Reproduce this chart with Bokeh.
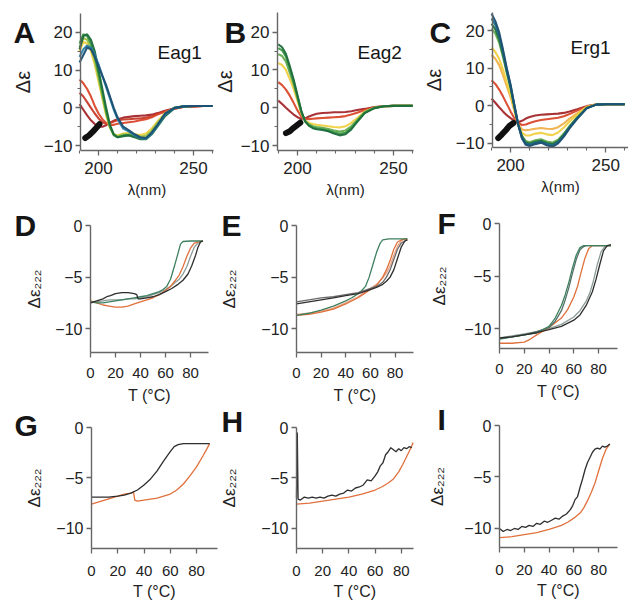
from bokeh.plotting import figure
from bokeh.models import Range1d, FixedTicker, Label, LinearAxis
from bokeh.embed import file_html
from bokeh.resources import INLINE

FONT = "Liberation Sans"
AXC = "#666666"
TXT = "#222222"

# ---------------- data: CD spectra ----------------
WL = [190, 192, 194, 196, 198, 200, 202, 204, 206, 208, 210, 213, 216, 219, 222, 225, 228, 231, 235, 240, 245, 250, 255, 260]
SPEC_XTICKS = [200, 250]
SPEC_XMINOR = [190, 210, 220, 230, 240, 260]
SPEC_YTICKS = [-10, 0, 10, 20]
SPEC_YMINOR = [-5, 5, 15]

# Eag1
A_1 = [12, 14, 16, 15.5, 13.5, 11, 8.5, 6, 3, 0, -2.5, -5, -6, -7, -7.8, -8, -6.5, -4.5, -1.5, 0, 0.4, 0.5, 0.5, 0.5]
A_2 = [13.5, 15.5, 16.5, 16, 14, 11.5, 8.5, 5.5, 2.5, -0.5, -3, -5.5, -6.3, -7.3, -8, -8.2, -6.8, -4.8, -1.8, 0, 0.4, 0.5, 0.5, 0.5]
A_3 = [15.5, 19, 19.5, 18, 15, 10, 5, 0, -4.5, -7, -7.8, -7.5, -7.3, -7.8, -8.3, -8.3, -7, -5, -2.2, -0.1, 0.4, 0.5, 0.5, 0.5]
A_4 = [17, 19.5, 19, 17, 13.5, 9, 4, -1, -5, -7.3, -7.8, -7.3, -7.2, -7.6, -8, -8, -6.8, -4.7, -2, 0, 0.4, 0.5, 0.5, 0.5]
A_5 = [16, 18.5, 18, 16, 12.5, 8, 3, -1.5, -5, -7, -7.5, -7, -7, -7.3, -7.6, -7.4, -6, -4, -1.6, 0, 0.4, 0.5, 0.5, 0.5]
A_6 = [15, 17.5, 17, 15, 11.5, 7, 2.5, -2, -5.3, -7, -7.3, -6.8, -6.7, -7, -7.2, -6.8, -5.5, -3.6, -1.4, 0, 0.4, 0.5, 0.5, 0.5]
A_7 = [7.5, 6.5, 5, 3, 0.5, -1.5, -3, -4, -4.5, -4.5, -4.2, -4, -3.8, -3.6, -3.3, -3, -2.5, -1.8, -1, -0.2, 0.3, 0.4, 0.5, 0.5]
A_8 = [4, 3, 1.5, 0, -1.5, -2.8, -3.8, -4.2, -4, -3.6, -3.3, -3.1, -3, -2.9, -2.8, -2.6, -2.2, -1.6, -0.9, -0.2, 0.3, 0.4, 0.5, 0.5]
A_9 = [1, -0.5, -2, -3.3, -4.3, -5, -5, -4.6, -4, -3.4, -3, -2.6, -2.4, -2.2, -2.1, -2, -1.8, -1.4, -0.8, -0.1, 0.3, 0.4, 0.5, 0.5]
A_NOISE_WL = [193, 195, 197, 199, 200.5]
A_NOISE = [-8.0, -7.3, -6.3, -5.2, -4.3]

# Eag2
B_1 = [16.8, 16, 14.2, 11, 7.5, 3.3, -0.8, -3.6, -4.8, -5.4, -5.7, -5.9, -6.2, -6.8, -7.3, -7.0, -5.7, -3.8, -1.4, -0.1, 0.4, 0.5, 0.5, 0.5]
B_2 = [15.8, 15.2, 13.5, 10.3, 7, 3, -1, -3.6, -4.6, -5.2, -5.5, -5.7, -6, -6.5, -6.9, -6.6, -5.4, -3.6, -1.3, -0.1, 0.4, 0.5, 0.5, 0.5]
B_3 = [14.2, 13.7, 12.2, 9.3, 6.2, 2.5, -1.2, -3.5, -4.4, -4.9, -5.1, -5.3, -5.6, -6, -6.3, -6, -4.9, -3.3, -1.2, 0, 0.4, 0.5, 0.5, 0.5]
B_4 = [11.8, 11.3, 10, 7.6, 5, 1.8, -1.5, -3.4, -4, -4.3, -4.5, -4.7, -4.9, -5.1, -5.2, -4.9, -4, -2.8, -1, 0, 0.4, 0.5, 0.5, 0.5]
B_5 = [6.8, 6, 4.8, 3.2, 1.3, -0.7, -2.3, -3, -3, -2.9, -2.8, -2.7, -2.6, -2.5, -2.4, -2.2, -1.8, -1.3, -0.6, 0.1, 0.4, 0.5, 0.5, 0.5]
B_6 = [1.9, 1, 0, -0.9, -1.8, -2.5, -2.9, -2.8, -2.3, -1.9, -1.6, -1.4, -1.3, -1.2, -1.2, -1.1, -0.9, -0.6, -0.3, 0.2, 0.4, 0.5, 0.5, 0.5]
B_NOISE_WL = [194, 196, 198, 200, 201.5]
B_NOISE = [-6.7, -6.2, -5.3, -4.5, -3.9]

# Erg1
C_1 = [24.5, 22.5, 19.5, 15, 10, 5.6, 0.2, -5, -8.7, -10.4, -10.7, -10.2, -9.8, -10.5, -10.9, -10, -8.2, -6, -3.5, -0.7, 0.3, 0.4, 0.4, 0.4]
C_2 = [23.2, 21.5, 18.7, 14.4, 9.6, 5.3, 0, -5, -8.5, -10.1, -10.4, -9.9, -9.6, -10.2, -10.6, -9.7, -8, -5.8, -3.4, -0.7, 0.3, 0.4, 0.4, 0.4]
C_3 = [21.8, 20.3, 17.7, 13.7, 9.2, 5, -0.2, -5, -8.2, -9.8, -10.1, -9.6, -9.3, -9.9, -10.2, -9.4, -7.7, -5.6, -3.2, -0.6, 0.3, 0.4, 0.4, 0.4]
C_4 = [20.5, 19.2, 16.8, 13, 8.7, 4.6, -0.4, -5, -8, -9.4, -9.7, -9.2, -8.9, -9.5, -9.8, -9, -7.4, -5.4, -3.1, -0.6, 0.3, 0.4, 0.4, 0.4]
C_5 = [15.5, 14.3, 12.5, 9.6, 6.2, 3, -1, -5, -7.2, -7.9, -7.9, -7.4, -7.2, -7.6, -7.8, -7.1, -5.8, -4.2, -2.4, -0.4, 0.3, 0.4, 0.4, 0.4]
C_6 = [13.5, 12.5, 10.8, 8.2, 5.2, 2.3, -1.4, -4.9, -6.3, -6.5, -6.4, -6.1, -5.9, -6.1, -6.2, -5.7, -4.7, -3.4, -2, -0.3, 0.3, 0.4, 0.4, 0.4]
C_7 = [6.8, 5.8, 4.3, 2.5, 0.5, -1.5, -3.3, -4.6, -5.1, -5, -4.6, -4.1, -3.8, -3.6, -3.4, -3.2, -2.8, -2.2, -1.3, -0.2, 0.3, 0.4, 0.4, 0.4]
C_8 = [1.9, 0.8, -0.4, -1.5, -2.5, -3.3, -4, -4.4, -4, -3.4, -3, -2.6, -2.4, -2.3, -2.2, -2.1, -1.9, -1.5, -0.9, -0.1, 0.3, 0.4, 0.4, 0.4]
C_NOISE_WL = [193.5, 195.5, 197.5, 199.5, 201.5]
C_NOISE = [-8.6, -7.6, -6.5, -5.3, -4.6]

# ---------------- data: thermal melts ----------------
MELT_XTICKS = [0, 20, 40, 60, 80]
MELT_YTICKS = [-10, -5, 0]

D_GREEN_T = [0, 5, 10, 15, 20, 25, 30, 35, 40, 45, 50, 55, 58, 61, 64, 67, 70, 72, 74, 80, 85, 90]
D_GREEN = [-7.4, -7.5, -7.5, -7.4, -7.3, -7.2, -7.1, -7.0, -6.9, -6.8, -6.6, -6.4, -6.2, -5.9, -5.2, -4.0, -2.7, -1.8, -1.55, -1.5, -1.5, -1.5]
D_ORANGE_T = [0, 5, 10, 15, 20, 25, 30, 35, 40, 45, 50, 55, 60, 64, 68, 71, 74, 77, 80, 83, 86, 90]
D_ORANGE = [-7.3, -7.5, -7.7, -7.8, -7.9, -7.9, -7.8, -7.6, -7.4, -7.2, -7.0, -6.7, -6.3, -5.9, -5.3, -4.8, -4.0, -3.0, -2.2, -1.7, -1.6, -1.5]
D_GRAY_T = [0, 5, 10, 15, 20, 25, 30, 35, 40, 45, 50, 55, 60, 64, 68, 71, 74, 77, 80, 83, 86, 90]
D_GRAY = [-7.5, -7.4, -7.3, -7.2, -7.2, -7.2, -7.1, -7.1, -7.0, -6.9, -6.7, -6.5, -6.2, -5.9, -5.5, -5.2, -4.7, -4.0, -3.0, -2.1, -1.7, -1.5]
D_BLACK_T = [0, 5, 10, 13, 16, 20, 25, 30, 35, 37, 38, 40, 45, 50, 55, 60, 65, 70, 74, 78, 81, 84, 86, 88, 90]
D_BLACK = [-7.5, -7.3, -7.1, -6.9, -6.8, -6.6, -6.5, -6.5, -6.6, -6.7, -7.1, -7.1, -7.0, -6.9, -6.7, -6.4, -6.1, -5.7, -5.3, -4.7, -3.9, -2.9, -2.1, -1.6, -1.5]

E_BLACK_T = [0, 10, 20, 30, 40, 50, 55, 60, 65, 70, 73, 76, 79, 82, 85, 88, 90]
E_BLACK = [-7.6, -7.4, -7.2, -7.0, -6.8, -6.6, -6.4, -6.2, -6.0, -5.7, -5.4, -5.0, -4.3, -3.2, -2.1, -1.5, -1.4]
E_GRAY_T = [0, 10, 20, 30, 40, 50, 55, 60, 65, 70, 73, 76, 79, 82, 85, 88, 90]
E_GRAY = [-7.4, -7.2, -7.0, -6.9, -6.7, -6.5, -6.3, -6.1, -5.9, -5.5, -5.0, -4.3, -3.3, -2.3, -1.7, -1.5, -1.4]
E_GREEN_T = [0, 10, 20, 30, 40, 45, 50, 53, 56, 59, 62, 65, 68, 70, 75, 80, 85, 90]
E_GREEN = [-8.7, -8.5, -8.2, -7.8, -7.3, -7.0, -6.6, -6.3, -5.9, -5.0, -3.8, -2.6, -1.7, -1.4, -1.3, -1.3, -1.3, -1.3]
E_ORANGE_T = [0, 10, 20, 30, 40, 50, 55, 60, 65, 70, 73, 76, 79, 82, 85, 88, 90]
E_ORANGE = [-8.7, -8.6, -8.4, -8.1, -7.6, -7.0, -6.6, -6.2, -5.8, -5.0, -4.3, -3.4, -2.3, -1.6, -1.4, -1.3, -1.3]
E_LIGHT_T = [0, 10, 20, 30, 40, 50, 55, 60, 65, 70, 73, 76, 79, 82, 85, 88, 90]
E_LIGHT = [-8.6, -8.5, -8.3, -8.0, -7.5, -6.9, -6.5, -6.1, -5.7, -5.1, -4.6, -3.9, -2.9, -2.0, -1.5, -1.3, -1.3]

F_GREEN_T = [0, 10, 20, 30, 40, 45, 50, 53, 56, 59, 62, 65, 68, 70, 80, 90]
F_GREEN = [-11.0, -10.8, -10.6, -10.4, -9.8, -9.0, -7.8, -6.8, -5.6, -4.2, -3.0, -2.3, -2.1, -2.1, -2.1, -2.1]
F_SLATE_T = [0, 10, 20, 30, 40, 45, 50, 53, 56, 59, 62, 65, 68, 70, 80, 90]
F_SLATE = [-10.9, -10.8, -10.6, -10.3, -9.9, -9.3, -8.3, -7.3, -6.1, -4.7, -3.4, -2.5, -2.2, -2.1, -2.1, -2.1]
F_ORANGE_T = [0, 10, 20, 25, 30, 40, 50, 55, 60, 63, 66, 69, 72, 75, 80, 90]
F_ORANGE = [-11.4, -11.4, -11.3, -11.0, -10.6, -9.9, -9.0, -8.2, -7.0, -6.0, -4.6, -3.3, -2.4, -2.1, -2.1, -2.1]
F_GRAY_T = [0, 10, 20, 30, 40, 50, 60, 65, 70, 73, 76, 79, 82, 85, 88, 90]
F_GRAY = [-10.9, -10.7, -10.5, -10.3, -10.0, -9.6, -8.9, -8.3, -7.4, -6.6, -5.4, -3.9, -2.7, -2.2, -2.1, -2.1]
F_BLACK_T = [0, 10, 20, 30, 40, 50, 60, 65, 70, 75, 78, 81, 84, 87, 90]
F_BLACK = [-10.9, -10.8, -10.6, -10.4, -10.1, -9.8, -9.2, -8.7, -7.8, -6.5, -5.3, -3.9, -2.6, -2.1, -2.0]

G_BLACK_T = [0, 5, 10, 13, 20, 25, 30, 35, 40, 45, 50, 55, 60, 63, 66, 70, 75, 80, 85, 90]
G_BLACK = [-6.9, -6.9, -6.9, -6.9, -6.8, -6.7, -6.5, -6.2, -5.7, -5.1, -4.3, -3.3, -2.4, -1.9, -1.7, -1.6, -1.6, -1.6, -1.6, -1.6]
G_ORANGE_T = [0, 5, 10, 15, 20, 25, 30, 32, 33, 35, 40, 45, 50, 55, 60, 65, 70, 75, 80, 85, 88, 90]
G_ORANGE = [-7.6, -7.4, -7.2, -7.0, -6.8, -6.6, -6.5, -6.4, -7.2, -7.3, -7.2, -7.1, -7.0, -6.8, -6.6, -6.2, -5.6, -4.8, -3.9, -2.8, -2.1, -1.6]

H_BLACK_T = [0, 0.6, 1.2, 3, 6, 9, 12, 15, 18, 21, 24, 27, 30, 33, 36, 39, 42, 45, 48, 51, 54, 57, 60, 62, 64, 66, 68, 70, 72, 74, 76, 78, 80, 82, 84, 86, 88]
H_BLACK = [-7.0, -0.5, -7.1, -7.2, -6.9, -7.0, -6.9, -7.0, -6.9, -7.0, -6.8, -6.7, -6.8, -6.6, -6.5, -6.2, -6.3, -6.0, -5.9, -5.7, -5.2, -5.3, -4.8, -4.4, -3.8, -3.5, -2.7, -2.4, -2.0, -2.2, -2.4, -2.1, -2.3, -2.0, -2.1, -1.9, -2.0]
H_ORANGE_T = [0, 10, 20, 30, 40, 50, 55, 60, 65, 70, 74, 78, 81, 84, 87, 89]
H_ORANGE = [-7.6, -7.5, -7.3, -7.1, -6.9, -6.6, -6.4, -6.2, -5.9, -5.5, -5.1, -4.4, -3.7, -2.9, -2.1, -1.5]

I_BLACK_T = [0, 3, 6, 9, 12, 15, 18, 21, 24, 27, 30, 33, 36, 39, 42, 45, 48, 51, 54, 57, 59, 61, 63, 65, 67, 69, 71, 73, 75, 77, 79, 81, 83, 85, 87, 89]
I_BLACK = [-10.0, -10.3, -10.1, -10.2, -10.0, -10.1, -9.8, -9.9, -9.7, -9.8, -9.5, -9.6, -9.3, -9.4, -9.2, -9.0, -9.1, -8.8, -8.6, -8.2, -7.8, -7.2, -6.9, -6.0, -5.2, -4.3, -3.6, -3.1, -2.6, -2.3, -2.2, -2.3, -2.0, -2.1, -2.0, -1.8]
I_ORANGE_T = [0, 10, 20, 30, 40, 50, 55, 60, 65, 68, 71, 74, 77, 80, 83, 86, 89]
I_ORANGE = [-10.9, -10.8, -10.6, -10.4, -10.1, -9.7, -9.4, -9.0, -8.5, -8.0, -7.3, -6.5, -5.6, -4.4, -3.2, -2.3, -1.8]

# ---------------- colours ----------------
NAVY = "#1b4f72"; BLUE = "#2a7fa8"; DKGREEN = "#1e6b3c"; GREEN = "#3d9a46"
LIMEY = "#9cc242"; YELLOW = "#f0d040"; PALEOR = "#efb04a"; RED = "#d9482b"
RED2 = "#c63a2a"; DKRED = "#a3272a"; TEAL = "#1f6e8c"; LTGREEN = "#62ab4e"
M_BLACK = "#2e2e2e"; M_GREEN = "#3e7f5e"; M_ORANGE = "#e0703c"; M_GRAY = "#8c9c9a"
M_SLATE = "#55706a"; M_DGRAY = "#6a6a6a"; M_LIGHT = "#eaa487"

# ---------------- one canvas, one pair of scales per panel ----------------
W, H = 628, 600          # the canvas sits at the page's top-left corner
OX, OY = 0, 0

p = figure(width=W, height=H, x_range=Range1d(0, 1), y_range=Range1d(0, 1),
           x_axis_location=None, y_axis_location=None, min_border=0,
           output_backend="svg", toolbar_location=None)
p.grid.visible = False
p.outline_line_color = None
p.background_fill_color = "white"
p.border_fill_color = "white"


def panel(name, axpx, axval):
    """Register x/y ranges so that the panel's axes land at page pixels axpx."""
    l, r, t, b = axpx
    x0, x1, y0, y1 = axval
    sx = (r - l) / (x1 - x0)
    sy = (b - t) / (y1 - y0)
    xs = x0 - (l - OX) / sx
    ye = y1 + (t - OY) / sy
    p.extra_x_ranges[name] = Range1d(xs, xs + W / sx)
    p.extra_y_ranges[name] = Range1d(ye - H / sy, ye)
    return dict(name=name, l=l, t=t, x0=x0, y1=y1, sx=sx, sy=sy, axval=axval)


def style(ax):
    ax.axis_line_color = AXC
    ax.axis_line_width = 1.4
    ax.major_tick_line_color = AXC
    ax.minor_tick_line_color = AXC
    ax.major_tick_line_width = 1.3
    ax.minor_tick_line_width = 1.1
    ax.major_tick_in = 0
    ax.major_tick_out = 5
    ax.minor_tick_in = 0
    ax.minor_tick_out = 3
    ax.major_label_text_font = FONT
    ax.axis_label_text_font = FONT
    ax.major_label_text_color = TXT
    ax.axis_label_text_color = TXT
    ax.axis_label_text_font_style = "normal"


def axes(pn, xticks, xminor, yticks, yminor, tick_fs, ytick_fs, xlab, xlab_fs, ylab, ylab_fs,
         xstand, xlstand, ystand):
    x0, x1, y0, y1 = pn["axval"]
    n = pn["name"]
    xa = LinearAxis(x_range_name=n, y_range_name=n, fixed_location=y0, bounds=(x0, x1),
                    ticker=FixedTicker(ticks=xticks, minor_ticks=xminor), axis_label=xlab)
    ya = LinearAxis(x_range_name=n, y_range_name=n, fixed_location=x0, bounds=(y0, y1),
                    ticker=FixedTicker(ticks=yticks, minor_ticks=yminor), axis_label=ylab)
    style(xa)
    style(ya)
    xa.major_label_text_font_size = tick_fs
    ya.major_label_text_font_size = ytick_fs
    xa.major_label_standoff = xstand
    xa.axis_label_text_font_size = xlab_fs
    xa.axis_label_standoff = xlstand
    ya.major_label_standoff = 3
    ya.axis_label_text_font_size = ylab_fs
    ya.axis_label_standoff = ystand
    p.add_layout(xa, "below")
    p.add_layout(ya, "left")


def text(pn, px, py, s, size, bold=False):
    n = pn["name"]
    p.add_layout(Label(x=pn["x0"] + (px - pn["l"]) / pn["sx"], y=pn["y1"] - (py - pn["t"]) / pn["sy"],
                       x_range_name=n, y_range_name=n, text=s,
                       text_font=FONT, text_font_size=size,
                       text_font_style="bold" if bold else "normal",
                       text_baseline="alphabetic", text_align="left", text_color="#151515"))


def spectra(name, axpx, axval, curves, noise_x, noise_y, letter, lpos, label, npos, ystand):
    pn = panel(name, axpx, axval)
    axes(pn, SPEC_XTICKS, SPEC_XMINOR, SPEC_YTICKS, SPEC_YMINOR, "17px", "17px",
         "λ(nm)", "15px", "Δε", "20px", 6, 4, ystand)
    for vals, colr in curves:
        p.line(WL, vals, line_color=colr, line_width=2.1, line_alpha=0.95,
               x_range_name=name, y_range_name=name)
    p.line(noise_x, noise_y, line_color="#111111", line_width=6, line_cap="round",
           x_range_name=name, y_range_name=name)
    text(pn, lpos[0], lpos[1], letter, "30px", bold=True)
    text(pn, npos[0], npos[1], label, "19px")


def melt(name, axpx, axval, curves, letter, lpos, ystand, xstand, lstand):
    pn = panel(name, axpx, axval)
    axes(pn, MELT_XTICKS, [], MELT_YTICKS, [], "15px", "16px",
         "T (°C)", "16px", "Δε₂₂₂", "17px", xstand, lstand, ystand)
    for tx, vals, colr in curves:
        p.line(tx, vals, line_color=colr, line_width=1.3, x_range_name=name, y_range_name=name)
    text(pn, lpos[0], lpos[1], letter, "30px", bold=True)


spectra("A", (80, 213, 13, 150), (190.5, 260.5, -11.3, 25),
        [(A_9, DKRED), (A_8, RED2), (A_7, RED), (A_6, YELLOW), (A_5, LIMEY),
         (A_4, GREEN), (A_3, DKGREEN), (A_2, BLUE), (A_1, NAVY)],
        A_NOISE_WL, A_NOISE, "A", (13, 32), "Eag1", (157, 52), 7)
spectra("B", (277, 413, 12, 150), (189.6, 260.4, -11.3, 25.2),
        [(B_6, DKRED), (B_5, RED), (B_4, YELLOW), (B_3, LTGREEN), (B_2, GREEN), (B_1, DKGREEN)],
        B_NOISE_WL, B_NOISE, "B", (224, 32), "Eag2", (357, 52), 2)
spectra("C", (492, 628, 12, 147), (190.5, 262, -11.1, 24.8),
        [(C_8, DKRED), (C_7, RED), (C_6, PALEOR), (C_5, YELLOW), (C_4, LTGREEN),
         (C_3, DKGREEN), (C_2, TEAL), (C_1, NAVY)],
        C_NOISE_WL, C_NOISE, "C", (429, 32), "Erg1", (570, 47), 8)

melt("D", (90, 208, 225, 352), (0, 94.4, -12.3, 0),
     [(D_GRAY_T, D_GRAY, M_GRAY), (D_ORANGE_T, D_ORANGE, M_ORANGE),
      (D_GREEN_T, D_GREEN, M_GREEN), (D_BLACK_T, D_BLACK, M_BLACK)],
     "D", (14, 225), 8, 10, 6)
melt("E", (296, 413, 225, 352), (0, 95, -12.3, 0),
     [(E_LIGHT_T, E_LIGHT, M_LIGHT), (E_ORANGE_T, E_ORANGE, M_ORANGE),
      (E_GREEN_T, E_GREEN, M_GREEN), (E_GRAY_T, E_GRAY, M_DGRAY), (E_BLACK_T, E_BLACK, M_BLACK)],
     "E", (221, 225), 19, 10, 6)
melt("F", (499, 617, 223, 348), (0, 95.3, -11.9, 0),
     [(F_GRAY_T, F_GRAY, M_GRAY), (F_ORANGE_T, F_ORANGE, M_ORANGE), (F_SLATE_T, F_SLATE, M_SLATE),
      (F_GREEN_T, F_GREEN, M_GREEN), (F_BLACK_T, F_BLACK, M_BLACK)],
     "F", (437, 223), 12, 10, 6)
melt("G", (91, 217, 427, 548), (0, 96, -12.0, 0),
     [(G_ORANGE_T, G_ORANGE, M_ORANGE), (G_BLACK_T, G_BLACK, M_BLACK)],
     "G", (14, 425), 9, 12, 4)
melt("H", (296, 413, 427, 548), (0, 89.3, -12.0, 0),
     [(H_ORANGE_T, H_ORANGE, M_ORANGE), (H_BLACK_T, H_BLACK, M_BLACK)],
     "H", (221, 421), 19, 12, 4)
melt("I", (499, 617, 425, 547), (0, 95.2, -11.85, 0),
     [(I_ORANGE_T, I_ORANGE, M_ORANGE), (I_BLACK_T, I_BLACK, M_BLACK)],
     "I", (437, 419), 14, 12, 4)

open("out.html", "w").write(file_html(p, INLINE))
